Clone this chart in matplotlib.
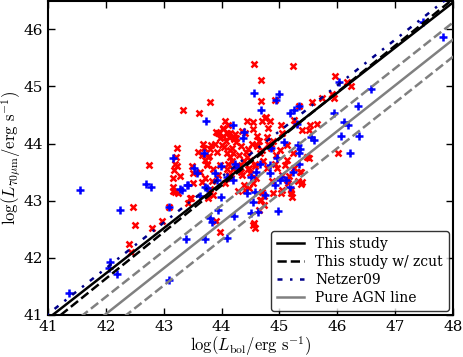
import matplotlib
matplotlib.use("Agg")
import matplotlib.pyplot as plt
import numpy as np

plt.rcParams["font.family"] = "DejaVu Serif"
plt.rcParams["mathtext.fontset"] = "cm"

# red crosses
red_x = [42.47, 42.50, 42.40, 42.44, 42.97, 42.80, 43.09, 43.16, 43.25, 43.47,
         43.42, 43.97, 43.90, 43.77, 43.85, 42.75, 43.33, 43.61, 43.80, 43.23,
         43.21, 43.23, 43.18, 43.28, 43.49, 43.51, 43.63, 43.80, 43.78, 43.71,
         43.75, 43.96, 44.02, 43.97, 44.08, 44.11, 44.09, 44.02, 44.09, 44.15,
         44.56, 45.23, 44.68, 45.96, 46.17, 46.24, 44.68, 44.92, 45.34, 45.56,
         45.74, 45.94, 45.53, 45.39, 45.51, 44.77, 44.70, 44.84, 45.03, 45.25,
         45.51, 46.01, 45.17, 45.37, 45.25, 45.37, 45.20, 45.15, 45.20, 44.56,
         44.58, 44.73, 45.03, 44.73, 44.66, 44.40, 44.61, 44.53, 44.78, 44.89,
         45.04, 45.13, 45.01, 44.66, 44.44, 44.58, 44.78, 44.96, 45.13, 45.23,
         45.48, 45.36, 45.39, 45.13, 45.04, 44.89, 44.49, 44.54, 44.40, 44.70,
         45.22, 43.19, 43.16, 43.51, 43.66, 43.16, 43.19, 43.77, 43.75, 43.94,
         44.15, 44.18, 44.20, 44.11, 43.45, 44.06, 44.44, 44.54, 44.75, 44.80,
         45.27, 45.65, 45.91, 44.39, 44.47, 44.28, 44.68, 44.65, 44.54, 45.32,
         44.25, 44.33, 44.45, 44.30, 44.38, 44.50, 44.62, 44.70, 44.85, 44.95,
         44.20, 44.35, 44.48, 44.60, 44.72, 44.92, 45.05, 44.12, 44.25, 44.55,
         44.65, 44.80, 43.88, 44.00, 44.30, 44.42, 44.88, 45.10, 43.60, 43.68,
         43.70, 43.82, 43.92, 44.04, 44.14, 44.22, 43.86, 43.98, 44.10, 44.18,
         44.26, 43.72, 43.84, 43.94, 44.06, 44.16, 44.34, 43.90, 44.02, 44.12,
         44.24, 44.36, 43.66, 43.80, 44.46, 44.58]
red_y = [42.88, 42.57, 42.24, 42.10, 42.64, 42.52, 42.88, 43.16, 43.13, 43.04,
         42.95, 42.45, 42.64, 43.04, 43.09, 43.62, 44.59, 44.54, 44.73, 43.93,
         43.76, 43.60, 43.53, 43.44, 43.60, 43.48, 43.50, 43.91, 43.79, 43.71,
         43.62, 44.19, 44.14, 44.09, 44.05, 44.32, 44.19, 44.26, 43.84, 43.76,
         45.40, 45.36, 45.12, 45.19, 45.08, 45.00, 44.75, 44.77, 44.65, 44.72,
         44.79, 44.80, 44.33, 44.23, 44.23, 44.46, 44.40, 44.40, 44.32, 44.42,
         43.74, 43.84, 43.44, 43.50, 43.58, 43.29, 43.18, 43.30, 43.13, 42.61,
         42.52, 42.92, 43.13, 43.08, 43.01, 44.18, 44.14, 44.00, 44.11, 44.05,
         44.18, 43.97, 43.88, 43.84, 43.76, 43.65, 43.58, 43.57, 43.71, 43.83,
         43.76, 43.50, 43.32, 43.36, 43.18, 43.13, 43.48, 43.30, 43.18, 43.15,
         43.06, 43.65, 43.39, 43.30, 43.32, 43.23, 43.15, 43.76, 43.65, 44.18,
         44.18, 43.93, 43.83, 43.65, 43.04, 44.40, 44.40, 44.37, 44.44, 44.28,
         44.35, 44.35, 44.87, 43.27, 43.22, 43.16, 43.01, 42.83, 42.57, 43.34,
         44.02, 43.95, 43.90, 43.80, 43.70, 43.72, 43.95, 43.88, 43.92, 43.80,
         43.55, 43.45, 43.58, 43.40, 43.70, 43.65, 43.45, 43.45, 44.10, 44.25,
         44.05, 44.00, 44.00, 43.98, 43.60, 43.85, 43.35, 43.62, 43.85, 44.00,
         43.92, 43.98, 43.86, 43.94, 43.88, 44.08, 43.56, 43.62, 43.55, 43.70,
         43.62, 43.40, 43.35, 43.45, 43.30, 43.40, 43.50, 44.20, 44.28, 44.12,
         44.16, 44.22, 43.80, 43.20, 43.55, 43.60]

# blue pluses
blue_x = [41.55, 41.36, 42.07, 42.05, 42.19, 42.24, 42.69, 42.78, 43.09, 43.09,
          43.39, 43.71, 44.09, 43.80, 43.83, 43.94, 43.63, 43.75, 43.99, 43.42,
          43.32, 43.73, 43.16, 43.70, 43.52, 43.58, 43.99, 44.56, 44.99, 44.94,
          44.68, 45.25, 45.18, 46.03, 46.58, 46.36, 45.94, 46.12, 46.18, 46.06,
          46.37, 46.22, 47.48, 47.83, 44.20, 44.39, 45.32, 45.34, 45.55, 45.60,
          45.34, 44.85, 45.08, 44.59, 44.51, 45.03, 44.97, 44.51, 44.21, 45.11,
          44.37, 44.66, 44.84, 44.96, 45.36, 45.23, 45.18, 45.01, 44.44, 44.58,
          44.84, 44.92, 44.75, 45.34, 45.30, 43.40, 43.71, 43.89, 43.92, 44.20,
          44.23, 44.28, 43.28, 44.54, 44.63, 44.09]
blue_y = [43.18, 41.38, 41.92, 41.82, 41.72, 42.83, 43.29, 43.23, 41.61, 42.88,
          42.33, 42.33, 42.34, 42.69, 42.62, 42.83, 43.08, 43.22, 43.06, 43.27,
          43.18, 44.39, 43.74, 43.84, 43.57, 43.48, 43.60, 44.89, 44.87, 44.77,
          44.58, 44.58, 44.53, 45.08, 44.96, 44.66, 44.54, 44.37, 44.33, 44.14,
          44.14, 43.83, 46.13, 45.87, 44.33, 44.21, 43.97, 43.84, 44.11, 44.07,
          43.65, 43.93, 44.02, 43.50, 43.41, 43.41, 42.82, 42.78, 42.73, 43.36,
          44.09, 43.65, 43.62, 43.74, 43.91, 43.50, 43.23, 43.36, 43.13, 43.15,
          43.48, 43.27, 43.09, 44.66, 44.35, 43.27, 43.23, 43.48, 43.36, 43.36,
          43.65, 43.58, 43.20, 42.97, 42.80, 43.41]

# relations: slope and the x where each line crosses y=41
study_slope, study_x41 = 0.79, 41.08
zcut_slope, zcut_x41 = 0.815, 41.22
netzer_slope, netzer_x41 = 0.80, 40.98
agn_slope, agn_x41 = 0.80, 41.98
agn_offset = 0.3

xx = np.array([40.5, 48.5])

fig = plt.figure(figsize=(4.63, 3.57), dpi=100)
ax = fig.add_axes([0.104, 0.118, 0.874, 0.880])

ax.plot(red_x, red_y, "x", color="red", ms=5, mew=1.8, zorder=2)
ax.plot(blue_x, blue_y, "+", color="blue", ms=5.5, mew=1.8, zorder=2)

ax.plot(xx, 41 + study_slope * (xx - study_x41), "-", color="black", lw=1.8,
        label="This study", zorder=3)
ax.plot(xx, 41 + zcut_slope * (xx - zcut_x41), "--", color="black", lw=1.8,
        label="This study w/ zcut", zorder=3)
ax.plot(xx, 41 + netzer_slope * (xx - netzer_x41), color="darkblue", lw=1.8,
        linestyle=(0, (2, 3, 1, 3)), label="Netzer09", zorder=3)
agn = 41 + agn_slope * (xx - agn_x41)
ax.plot(xx, agn, "-", color="gray", lw=1.8, label="Pure AGN line", zorder=3)
ax.plot(xx, agn + agn_offset, "--", color="gray", lw=1.8, zorder=3)
ax.plot(xx, agn - agn_offset, "--", color="gray", lw=1.8, zorder=3)

ax.set_xlim(41, 48)
ax.set_ylim(41, 46.5)
ax.set_xticks(range(41, 49))
ax.set_yticks(range(41, 47))
ax.tick_params(direction="in", top=True, right=True, length=5, width=1,
               labelsize=11, pad=4)
for s in ax.spines.values():
    s.set_linewidth(1.5)

ax.set_xlabel(r"$\log(L_{\rm bol}/{\rm erg\ s^{-1}})$", fontsize=12, labelpad=0)
ax.set_ylabel(r"$\log(L_{70\mu{\rm m}}/{\rm erg\ s^{-1}})$", fontsize=12,
              labelpad=0)

leg = ax.legend(loc="lower right", fontsize=10, fancybox=True,
                handlelength=2.0, borderaxespad=0.3, labelspacing=0.3)
leg.get_frame().set_edgecolor("black")

fig.savefig("out.png", dpi=100)
